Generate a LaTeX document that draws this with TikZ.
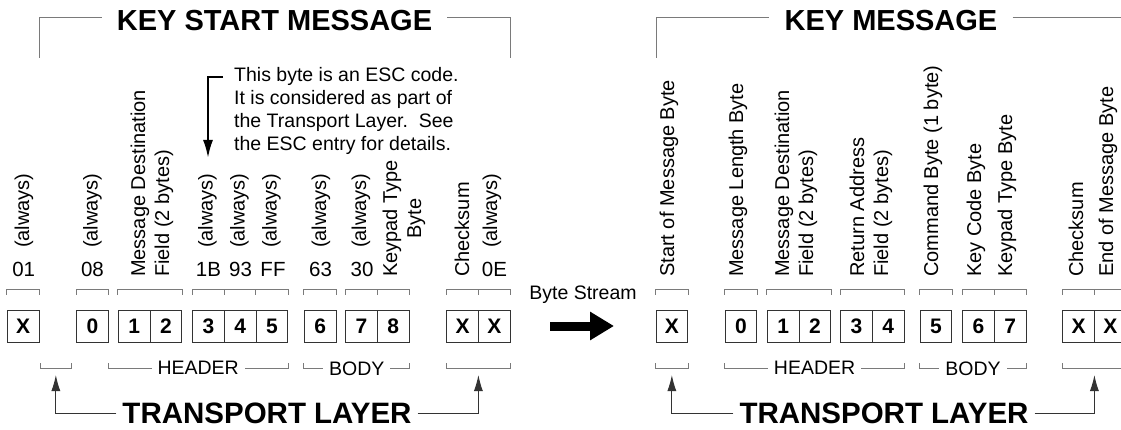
\documentclass[tikz,border=0pt]{standalone}
\usepackage{fontspec}
\setmainfont{Liberation Sans}
\usetikzlibrary{arrows.meta}
\definecolor{brkc}{HTML}{7A7A7A}
\definecolor{boxc}{HTML}{333333}
\newcommand\mytopbrk[2]{\draw[brk] ([yshift=15pt]#1.north west) -- ([yshift=20pt]#1.north west) -- ([yshift=20pt]#2.north east) -- ([yshift=15pt]#2.north east);}
\newcommand\mymidtick[1]{\draw[brk] ([yshift=15pt]#1.north west) -- ([yshift=20pt]#1.north west);}
\newcommand\mybotbrk[2]{\draw[brk] ([yshift=-21pt]#1.south west) -- ([yshift=-26pt]#1.south west) -- ([yshift=-26pt]#2.south east) -- ([yshift=-21pt]#2.south east);}
\begin{document}
\begin{tikzpicture}[x=1pt,y=-1pt,
  byte/.style={draw=boxc, line width=0.9pt, minimum width=31.7pt, minimum height=32pt, inner sep=0pt, font=\fontsize{21}{21}\selectfont\bfseries},
  brk/.style={draw=brkc, line width=0.9pt},
  vlab/.style={rotate=90, anchor=west, inner sep=0pt, align=left, font=\fontsize{20}{24}\selectfont},
  vlabc/.style={vlab, align=center},
  num/.style={anchor=base, inner sep=0pt, font=\fontsize{20.5}{20.5}\selectfont},
  seclab/.style={fill=white, inner xsep=6pt, inner ysep=1pt, font=\fontsize{19.5}{19.5}\selectfont},
  title/.style={inner xsep=15pt, inner ysep=0pt, font=\fontsize{29}{29}\selectfont\bfseries},
  tlab/.style={inner xsep=6pt, inner ysep=0pt, font=\fontsize{29.5}{29.5}\selectfont\bfseries},
  tlarrow/.style={draw=boxc, line width=1pt, -{Latex[length=16pt,width=9pt]}},
  note/.style={anchor=north west, align=left, inner sep=0pt, font=\fontsize{19.5}{23}\selectfont}
]
\useasboundingbox (0,0) rectangle (1121,430);
\clip (0,0) rectangle (1121,430);
\fill[white] (0,0) rectangle (1121,430);

% ---------------- LEFT PANEL ----------------
\node[title] (T1) at (274.5,21) {KEY START MESSAGE};
\coordinate (t1a) at (39,58); \coordinate (t1b) at (39,17);
\coordinate (t1c) at (510,17); \coordinate (t1d) at (510,58);
\draw[brk] (t1a) -- (t1b) -- (t1b -| T1.west);
\draw[brk] (T1.east |- t1c) -- (t1c) -- (t1d);

% boxes
\node[byte] (LX1) at (23.15,326) {X};
\node[byte] (L0) at (92.55,326) {0};
\node[byte] (L1) at (134.15,326) {1};
\node[byte] (L2) at (165.85,326) {2};
\node[byte] (L3) at (208.55,326) {3};
\node[byte] (L4) at (240.25,326) {4};
\node[byte] (L5) at (271.95,326) {5};
\node[byte] (L6) at (320.15,326) {6};
\node[byte] (L7) at (361.55,326) {7};
\node[byte] (L8) at (393.25,326) {8};
\node[byte] (LX2) at (462.55,326) {X};
\node[byte] (LX3) at (494.25,326) {X};

% top brackets
\mytopbrk{LX1}{LX1}
\mytopbrk{L0}{L0}
\mytopbrk{L1}{L2}
\mytopbrk{L3}{L5} \mymidtick{L4} \mymidtick{L5}
\mytopbrk{L6}{L6}
\mytopbrk{L7}{L8} \mymidtick{L8}
\mytopbrk{LX2}{LX3} \mymidtick{LX3}

% bottom brackets
\coordinate (lb1a) at (40,363); \coordinate (lb1b) at (40,368);
\coordinate (lb1c) at (71.7,368); \coordinate (lb1d) at (71.7,363);
\draw[brk] (lb1a) -- (lb1b) -- (lb1c) -- (lb1d);
\draw[brk] ([yshift=-21pt]L0.south east) -- ([yshift=-26pt]L0.south east) -- ([yshift=-26pt]L5.south east) -- ([yshift=-21pt]L5.south east);
\mybotbrk{L6}{L8}
\mybotbrk{LX2}{LX3}
\node[seclab] (LH) at (198.2,368) {HEADER};
\node[seclab] (LB) at (356.7,369) {BODY};

% rotated labels
\node[vlab] (la1) at (24,248) {(always)};
\node[vlab] (la2) at (92.5,248) {(always)};
\node[vlab] (lmd) at (152,277) {Message Destination\\Field (2 bytes)};
\node[vlab] (la3) at (207.5,248) {(always)};
\node[vlab] (la4) at (239.5,248) {(always)};
\node[vlab] (la5) at (271.5,248) {(always)};
\node[vlab] (la6) at (321,248) {(always)};
\node[vlab] (la7) at (361,248) {(always)};
\node[vlabc] (lkt) at (404,277) {Keypad Type\\Byte};
\node[vlab] (lcs) at (462,277) {Checksum};
\node[vlab] (la8) at (492,248) {(always)};

% numbers
\node[num] (n01) at (23.7,276.7) {01};
\node[num] (n08) at (92.5,276.7) {08};
\node[num] (n1B) at (208.5,276.7) {1B};
\node[num] (n93) at (240.5,276.7) {93};
\node[num] (nFF) at (273,276.7) {FF};
\node[num] (n63) at (320.5,276.7) {63};
\node[num] (n30) at (362,276.7) {30};
\node[num] (n0E) at (494.5,276.7) {0E};

% ESC note
\node[note] (esc) at (234,67) {This byte is an ESC code.\\It is considered as part of\\the Transport Layer.\ \ See\\the ESC entry for details.};
\coordinate (e0) at (223,77); \coordinate (e1) at (208,77); \coordinate (e2) at (208,158);
\draw[line width=2.2pt, -{Latex[length=18pt,width=10pt]}] (e0) -- (e1) -- (e2);

% transport layer
\node[tlab] (TL1) at (267,413) {TRANSPORT LAYER};
\coordinate (tla) at (55.85,375);
\coordinate (tlb) at (478.4,375);
\draw[tlarrow] (TL1.west) -| (tla);
\draw[tlarrow] (TL1.east) -| (tlb);

% ---------------- BYTE STREAM ----------------
\node[font=\fontsize{19.5}{19.5}\selectfont, inner sep=0pt] (bst) at (583,295) {Byte Stream};
\coordinate (bs1) at (550,326); \coordinate (bs2) at (614,326);
\draw[line width=9pt, -{Triangle[length=24pt,width=27pt]}] (bs1) -- (bs2);

% ---------------- RIGHT PANEL ----------------
\node[title] (T2) at (891,21) {KEY MESSAGE};
\coordinate (t2a) at (656,58); \coordinate (t2b) at (656,17);
\coordinate (t2c) at (1126,17); \coordinate (t2d) at (1126,58);
\draw[brk] (t2a) -- (t2b) -- (t2b -| T2.west);
\draw[brk] (T2.east |- t2c) -- (t2c) -- (t2d);

\node[byte] (RX1) at (671.85,326) {X};
\node[byte] (R0) at (740.85,326) {0};
\node[byte] (R1) at (783.15,326) {1};
\node[byte] (R2) at (814.85,326) {2};
\node[byte] (R3) at (856.55,326) {3};
\node[byte] (R4) at (888.25,326) {4};
\node[byte] (R5) at (935.85,326) {5};
\node[byte] (R6) at (978.55,326) {6};
\node[byte] (R7) at (1010.25,326) {7};
\node[byte] (RX2) at (1078.55,326) {X};
\node[byte] (RX3) at (1110.25,326) {X};

\mytopbrk{RX1}{RX1}
\mytopbrk{R0}{R0}
\mytopbrk{R1}{R2}
\mytopbrk{R3}{R4}
\mytopbrk{R5}{R5}
\mytopbrk{R6}{R7} \mymidtick{R7}
\mytopbrk{RX2}{RX3} \mymidtick{RX3}

\mybotbrk{RX1}{RX1}
\mybotbrk{R0}{R4}
\mybotbrk{R5}{R7}
\mybotbrk{RX2}{RX3}
\node[seclab] (RH) at (814.6,368) {HEADER};
\node[seclab] (RB) at (973,369) {BODY};

\node[vlab] (rsm) at (669,277) {Start of Message Byte};
\node[vlab] (rml) at (738,277) {Message Length Byte};
\node[vlab] (rmd) at (796,277) {Message Destination\\Field (2 bytes)};
\node[vlab] (rra) at (871,277) {Return Address\\Field (2 bytes)};
\node[vlab] (rcb) at (933,277) {Command Byte (1 byte)};
\node[vlab] (rkc) at (976,277) {Key Code Byte};
\node[vlab] (rkt) at (1007,277) {Keypad Type Byte};
\node[vlab] (rcs) at (1076,277) {Checksum};
\node[vlab] (rem) at (1108,277) {End of Message Byte};

\node[tlab] (TL2) at (884,413) {TRANSPORT LAYER};
\coordinate (tlc) at (671.85,375);
\coordinate (tld) at (1094.4,375);
\draw[tlarrow] (TL2.west) -| (tlc);
\draw[tlarrow] (TL2.east) -| (tld);
\end{tikzpicture}
\end{document}
